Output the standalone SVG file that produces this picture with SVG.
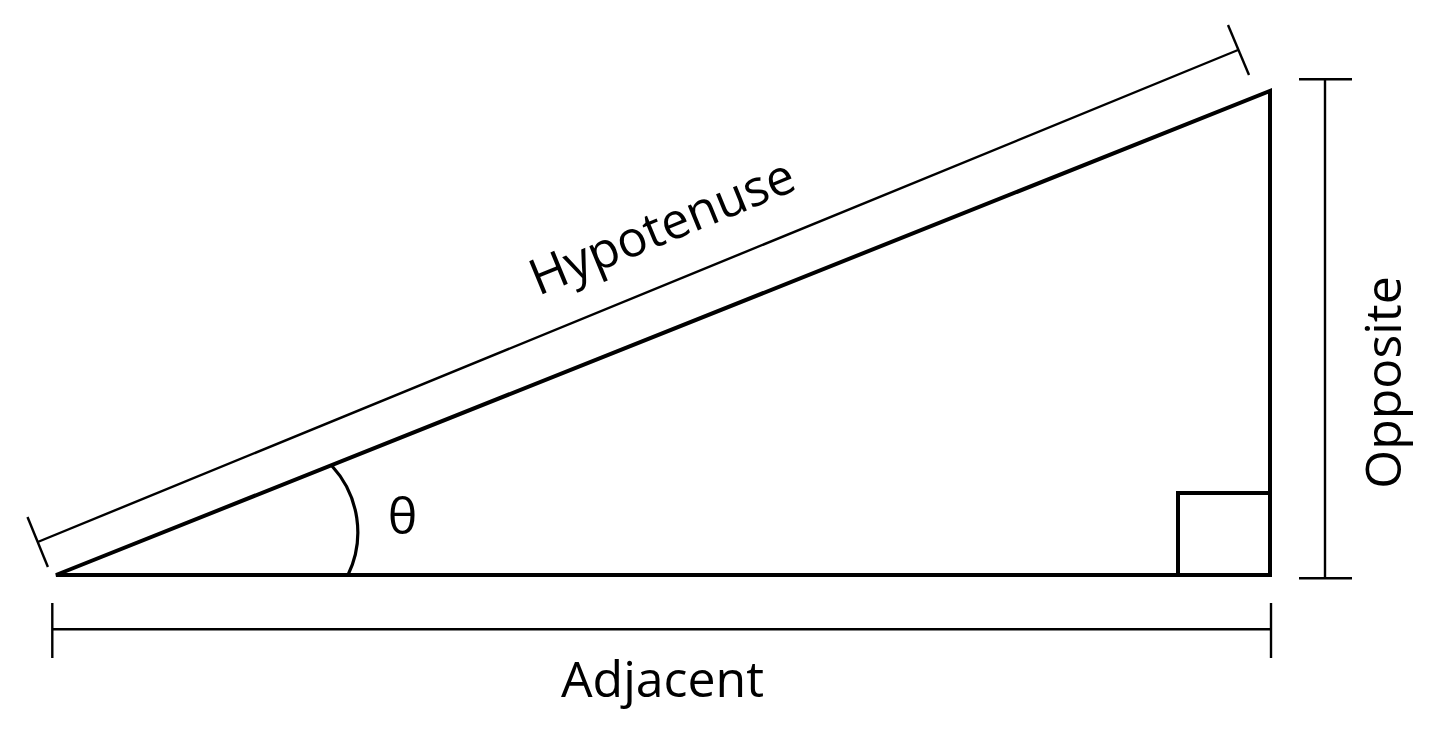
<svg xmlns="http://www.w3.org/2000/svg" width="1434" height="735" viewBox="0 0 1434 735">
<style>
.tri{fill:none;stroke:#000;stroke-width:4;stroke-linejoin:miter}
.dim{fill:none;stroke:#000;stroke-width:2.4}
.arc{fill:none;stroke:#000;stroke-width:3.2}
.lbl{font-family:"Open Sans","Noto Sans",sans-serif;font-size:50px;fill:#000}
</style>
<rect width="1434" height="735" fill="#fff"/>
<g id="triangle">
<path class="tri" d="M56,575 L1270,91 L1270,575 Z"/>
<path class="tri" d="M1178,575 L1178,493 L1270,493"/>
<path class="arc" d="M332,466 A98,98 0 0 1 348,575"/>
</g>
<g id="connectors">
<g id="dim-hypotenuse">
<line class="dim" x1="37.7" y1="542" x2="1238" y2="50"/>
<line class="dim" x1="27.5" y1="517" x2="47.9" y2="567"/>
<line class="dim" x1="1228" y1="25" x2="1249" y2="75"/>
</g>
<g id="dim-opposite">
<line class="dim" x1="1325" y1="79.3" x2="1325" y2="578.3"/>
<line class="dim" x1="1299" y1="79.3" x2="1352" y2="79.3"/>
<line class="dim" x1="1299" y1="578.3" x2="1352" y2="578.3"/>
</g>
<g id="dim-adjacent">
<line class="dim" x1="52.3" y1="629.3" x2="1271" y2="629.3"/>
<line class="dim" x1="52.3" y1="603" x2="52.3" y2="658"/>
<line class="dim" x1="1271" y1="603" x2="1271" y2="658"/>
</g>
</g>
<g id="label-hypotenuse">
<text class="lbl" text-anchor="middle" transform="translate(668.5,242.6) rotate(-22.32)">Hypotenuse</text>
</g>
<g id="label-opposite">
<text class="lbl" text-anchor="middle" transform="translate(1401,382.5) rotate(-90)">Opposite</text>
</g>
<g id="label-adjacent">
<text class="lbl" text-anchor="middle" x="662.5" y="697">Adjacent</text>
</g>
<g id="label-theta">
<text class="lbl" text-anchor="middle" x="402.5" y="534">θ</text>
</g>
</svg>
